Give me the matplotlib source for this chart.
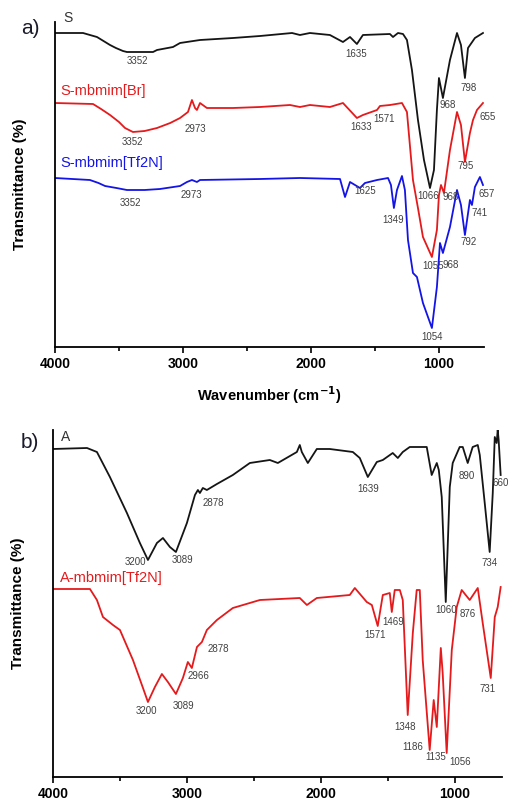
import matplotlib
matplotlib.use("Agg")
from matplotlib import pyplot as plt
from matplotlib.ticker import MultipleLocator

plt.rcParams['font.family'] = ['Liberation Sans', 'DejaVu Sans']

# ---- panel a : S, S-mbmim[Br], S-mbmim[Tf2N] ----
s_wn = [4000, 3781, 3727, 3672, 3570, 3524, 3469, 3438, 3375, 3234, 3203, 3078, 3023, 2867, 2609,
        2398, 2148, 2086, 2008, 1852, 1750, 1695, 1641, 1594, 1383, 1359, 1320, 1281, 1250,
        1211, 1164, 1117, 1070, 1039, 1016, 1000, 969, 914, 859, 828, 797, 773, 719, 656]
s_t = [314, 314, 312, 310, 302, 299, 296, 295, 295, 295, 297, 300, 304, 307, 309,
       311, 314, 312, 314, 312, 305, 310, 303, 312, 313, 310, 314, 313, 307,
       277, 227, 187, 159, 177, 237, 269, 249, 287, 314, 302, 269, 299, 309, 314]

sbr_wn = [4000, 3703, 3640, 3570, 3500, 3453, 3391, 3300, 3203, 3100, 3023, 2961, 2930, 2906,
          2891, 2867, 2813, 2609, 2398, 2164, 2086, 2008, 1852, 1750, 1641, 1594, 1484, 1461,
          1383, 1289, 1250, 1203, 1164, 1125, 1055, 1016, 1000, 984, 961, 914, 859, 828, 797,
          758, 734, 703, 656]
sbr_t = [244, 243, 238, 232, 225, 219, 215, 216, 219, 224, 229, 235, 247, 239,
         237, 244, 239, 239, 240, 242, 240, 242, 240, 244, 229, 232, 237, 241,
         242, 244, 235, 167, 139, 110, 90, 117, 152, 162, 154, 197, 235, 222, 185,
         214, 227, 237, 244]

stf_wn = [4000, 3727, 3660, 3609, 3520, 3438, 3300, 3180, 3023, 2969, 2930, 2891, 2867, 2398,
          2086, 1773, 1734, 1695, 1617, 1578, 1484, 1398, 1375, 1352, 1328, 1289, 1266, 1242,
          1203, 1172, 1125, 1055, 1016, 992, 969, 914, 859, 828, 797, 758, 742, 719, 680, 656]
stf_t = [169, 167, 164, 161, 159, 157, 157, 158, 161, 165, 167, 165, 167, 168,
         169, 168, 150, 165, 159, 164, 167, 169, 162, 139, 157, 171, 157, 107,
         74, 70, 44, 19, 60, 104, 94, 120, 157, 142, 112, 147, 142, 160, 170, 162]

peaks_a = [
    ('3352', 3359, 286), ('1635', 1648, 293), ('968', 930, 242), ('798', 766, 259),
    ('1066', 1086, 151),
    ('3352', 3398, 205), ('2973', 2906, 218), ('1633', 1609, 220), ('1571', 1430, 228),
    ('655', 617, 230), ('795', 789, 181), ('968', 906, 150),
    ('3352', 3414, 144), ('2973', 2938, 152), ('1625', 1578, 156), ('1349', 1359, 127),
    ('1055', 1047, 81), ('968', 906, 82), ('792', 766, 105), ('741', 680, 134),
    ('657', 625, 153), ('1054', 1055, 10),
]

# ---- panel b : A, A-mbmim[Tf2N] ----
a_wn = [4000, 3746, 3672, 3575, 3448, 3351, 3291, 3224, 3179, 3127, 3082, 3000, 2940, 2918,
        2903, 2881, 2851, 2776, 2657, 2530, 2381, 2321, 2179, 2157, 2142, 2097, 2030, 1933,
        1761, 1709, 1649, 1582, 1537, 1463, 1425, 1388, 1336, 1209, 1172, 1134, 1119, 1097,
        1067, 1037, 1015, 963, 940, 903, 866, 828, 813, 776, 739, 716, 701, 687, 679, 672, 657]
a_t = [328, 329, 325, 300, 264, 234, 217, 234, 239, 230, 225, 254, 282, 287,
       284, 289, 287, 293, 302, 314, 317, 314, 325, 332, 325, 314, 328, 328,
       325, 319, 300, 315, 317, 324, 319, 325, 330, 330, 302, 314, 307, 280,
       175, 290, 314, 330, 330, 314, 330, 332, 322, 274, 225, 284, 340, 334, 347, 337, 302]

atf_wn = [4000, 3724, 3672, 3627, 3552, 3500, 3403, 3328, 3291, 3239, 3187, 3142, 3082, 3030,
          2993, 2963, 2925, 2888, 2851, 2776, 2657, 2455, 2157, 2104, 2030, 1784, 1746, 1657,
          1619, 1575, 1537, 1485, 1470, 1448, 1410, 1388, 1351, 1313, 1284, 1261, 1239, 1187,
          1157, 1134, 1104, 1090, 1060, 1022, 985, 948, 888, 828, 791, 731, 701, 679, 657]
atf_t = [188, 188, 177, 160, 152, 147, 117, 89, 75, 90, 103, 95, 83, 99,
         115, 109, 130, 135, 147, 157, 169, 177, 179, 172, 179, 182, 189, 175,
         172, 151, 182, 184, 165, 187, 187, 177, 62, 144, 187, 187, 117, 27,
         77, 50, 129, 104, 24, 127, 170, 187, 177, 189, 154, 99, 160, 170, 190]

peaks_b = [
    ('3200', 3388, 215), ('3089', 3030, 217), ('2878', 2806, 274), ('1639', 1649, 288),
    ('890', 910, 301), ('660', 655, 294), ('734', 739, 214), ('1060', 1067, 167),
    ('3200', 3299, 66), ('3089', 3022, 71), ('2966', 2910, 101), ('2878', 2769, 128),
    ('1571', 1597, 142), ('1469', 1463, 155), ('1348', 1373, 50), ('1186', 1313, 30),
    ('1135', 1142, 20), ('1056', 963, 15), ('876', 903, 163), ('731', 754, 88),
]

BLACK = '#151515'
RED = '#e41a1c'
BLUE = '#1414e6'
GREY = '#404040'

fig = plt.figure(figsize=(5.13, 8.01), dpi=100)
ax_a = fig.add_axes([55 / 513, 1 - 347 / 801, (484 - 55) / 513, (347 - 22) / 801])
ax_b = fig.add_axes([53 / 513, 1 - 777 / 801, (502 - 53) / 513, (777 - 430) / 801])


def style_axis(ax, xmax_right, ytop):
    ax.set_xlim(4000, xmax_right)
    ax.set_ylim(0, ytop)
    for side in ('top', 'right'):
        ax.spines[side].set_visible(False)
    ax.spines['left'].set_linewidth(1.3)
    ax.spines['bottom'].set_linewidth(1.3)
    ax.set_yticks([])
    ax.xaxis.set_major_locator(MultipleLocator(1000))
    ax.xaxis.set_minor_locator(MultipleLocator(500))
    ax.tick_params(axis='x', which='major', direction='out', length=4, width=1.2, pad=3)
    ax.tick_params(axis='x', which='minor', direction='out', length=3, width=1.2)
    for lab in ax.get_xticklabels():
        lab.set_fontweight('bold')
        lab.set_fontsize(10)
    ax.set_ylabel('Transmittance (%)', fontsize=11, fontweight='bold', labelpad=20)


style_axis(ax_a, 648, 325)
kw = dict(lw=1.3, solid_joinstyle='round')
ax_a.plot(s_wn, s_t, color=BLACK, **kw)
ax_a.plot(sbr_wn, sbr_t, color=RED, **kw)
ax_a.plot(stf_wn, stf_t, color=BLUE, **kw)
for txt, x, y in peaks_a:
    ax_a.text(x, y, txt, fontsize=7, color=GREY, ha='center', va='center')
ax_a.text(3895, 329, 'S', fontsize=10, color='#333333', ha='center', va='center')
ax_a.text(3961, 256, 'S-mbmim[Br]', fontsize=10.5, color=RED, ha='left', va='center')
ax_a.text(3961, 184, 'S-mbmim[Tf2N]', fontsize=10.5, color=BLUE, ha='left', va='center')
ax_a.set_xlabel('Wavenumber (cm$^{\\mathbf{-1}}$)', fontsize=10.5, fontweight='bold', labelpad=10)

style_axis(ax_b, 647, 347)
ax_b.plot(a_wn, a_t, color=BLACK, **kw)
ax_b.plot(atf_wn, atf_t, color=RED, **kw)
for txt, x, y in peaks_b:
    ax_b.text(x, y, txt, fontsize=7, color=GREY, ha='center', va='center')
ax_b.text(3903, 340, 'A', fontsize=10, color='#333333', ha='center', va='center')
ax_b.text(3948, 199, 'A-mbmim[Tf2N]', fontsize=10.5, color=RED, ha='left', va='center')

fig.text(30 / 513, 1 - 28 / 801, 'a)', fontsize=15, color='#1a1a2a', ha='center', va='center')
fig.text(30 / 513, 1 - 442 / 801, 'b)', fontsize=15, color='#1a1a2a', ha='center', va='center')

fig.savefig('out.png', dpi=100)
